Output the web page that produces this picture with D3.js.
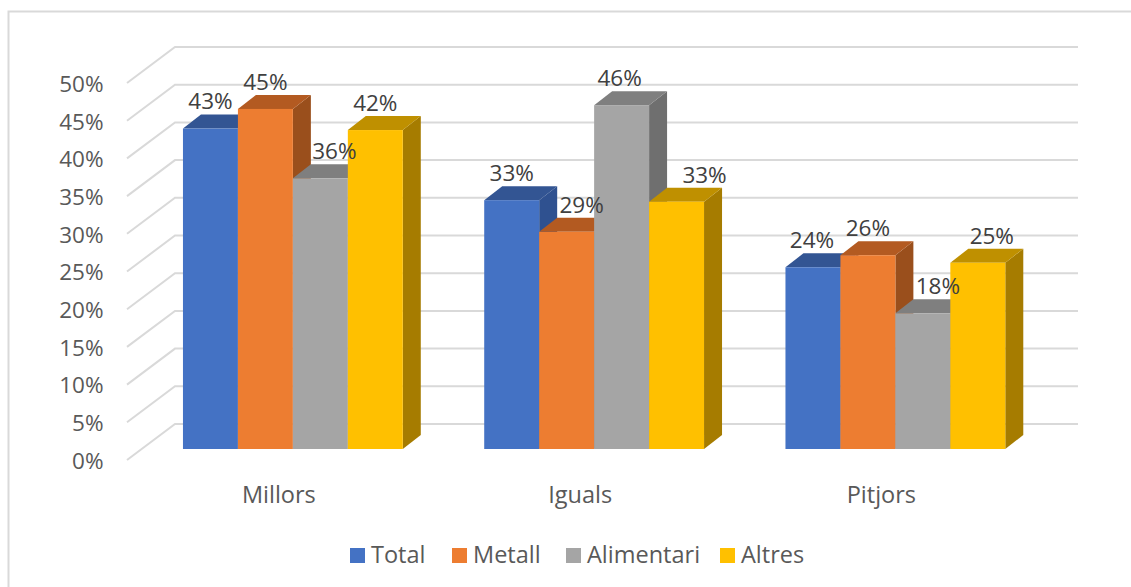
<!DOCTYPE html>
<html><head><meta charset="utf-8">
<script src="https://cdn.jsdelivr.net/npm/d3@7"></script>
<style>html,body{margin:0;padding:0;background:#fff}svg{display:block}text{font-family:"Open Sans",sans-serif}</style>
</head><body><svg id="c" width="1131" height="587"></svg>
<script>
const categories = ["Millors","Iguals","Pitjors"];
const seriesNames = ["Total","Metall","Alimentari","Altres"];
const total = [42.5,33,24.1];
const metall = [45.1,28.8,25.7];
const alimentari = [35.9,45.6,18];
const altres = [42.3,32.8,24.7];
const yTicks = [0,5,10,15,20,25,30,35,40,45,50];

const seriesValues = [total,metall,alimentari,altres];
const fronts = ["#4472C4","#ED7D31","#A5A5A5","#FFC000"];
const tops = ["#335593","#B35A21","#7F7F7F","#BF9000"];
const sides = ["#2F5190","#9A4F1C","#6F6F6F","#A67C00"];
// hand-placed label offsets of the original, per [category][series]
const labelShift = [[0,0,14,0],[0,15,-2,28],[-1,0,15,14]];

const W=1131,H=587;
const svg=d3.select("#c");
svg.append("rect").attr("x",8.5).attr("y",11.5).attr("width",W+10).attr("height",H+10)
  .attr("fill","#fff").attr("stroke","#D9D9D9").attr("stroke-width",2);

const x=d3.scaleBand().domain(categories).range([142.25,1046]).paddingInner(81.5/301.5).paddingOuter(81.5/301.5/2);
const xs=d3.scaleBand().domain(seriesNames).range([0,x.bandwidth()]);
const y=d3.scaleLinear().domain([0,50]).range([449,72]);
const barDX=18,barDY=14;
const wallX=175,wallDY=25,floorX=127,floorDY=11,rightX=1078;

const grid=svg.append("g").attr("fill","none").attr("stroke","#D9D9D9").attr("stroke-width",2);
yTicks.forEach(t=>{
  grid.append("path").attr("d",d3.line()([[floorX,y(t)+floorDY],[wallX,y(t)-wallDY],[rightX,y(t)-wallDY]]));
});

svg.append("g").selectAll("text").data(yTicks).join("text")
  .attr("x",103.5).attr("y",t=>y(t)+12).attr("dy","0.35em").attr("text-anchor","end")
  .attr("font-size",22.5).attr("fill","#595959").text(t=>t+"%");

const bars=svg.append("g");
const labelData=[];
categories.forEach((c,ci)=>{
  seriesNames.forEach((s,si)=>{
    const v=seriesValues[si][ci];
    const x0=x(c)+xs(s),w=xs.bandwidth(),yt=y(v),yb=y(0);
    const line=d3.line();
    bars.append("path").attr("fill",sides[si]).attr("d",line([[x0+w,yt],[x0+w+barDX,yt-barDY],[x0+w+barDX,yb-barDY],[x0+w,yb]])+"Z");
    bars.append("path").attr("fill",tops[si]).attr("d",line([[x0,yt],[x0+barDX,yt-barDY],[x0+w+barDX,yt-barDY],[x0+w,yt]])+"Z");
    bars.append("rect").attr("x",x0).attr("y",yt).attr("width",w).attr("height",yb-yt).attr("fill",fronts[si]);
    labelData.push({v,x:x0+w/2+labelShift[ci][si],y:yt-27});
  });
});

svg.append("g").selectAll("text").data(labelData).join("text")
  .attr("x",d=>d.x).attr("y",d=>d.y).attr("dy","0.35em").attr("text-anchor","middle")
  .attr("font-size",22.5).attr("fill","#404040").text(d=>Math.round(d.v)+"%");

svg.append("g").selectAll("text").data(categories).join("text")
  .attr("x",c=>x(c)+x.bandwidth()/2-14).attr("y",495).attr("dy","0.35em").attr("text-anchor","middle")
  .attr("font-size",23.5).attr("fill","#595959").text(c=>c);

const legendX=[350,452,566,720];
const lg=svg.append("g").selectAll("g").data(seriesNames).join("g")
  .attr("transform",(d,i)=>`translate(${legendX[i]},548)`);
lg.append("rect").attr("width",15).attr("height",15).attr("fill",(d,i)=>fronts[i]);
lg.append("text").attr("x",21).attr("y",7).attr("dy","0.35em").attr("font-size",23.5).attr("fill","#595959").text(d=>d);
</script></body></html>
